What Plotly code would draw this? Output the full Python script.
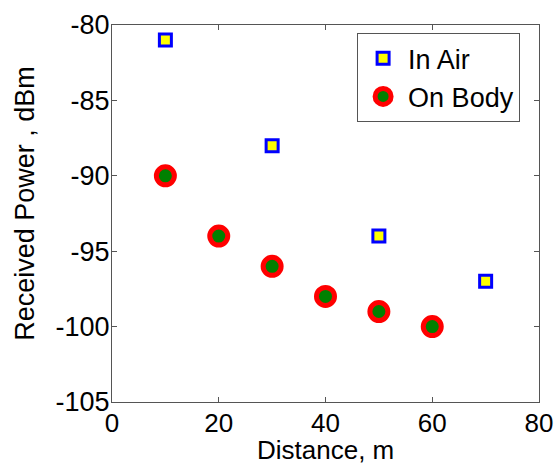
import plotly.graph_objects as go

air_x = [10, 30, 50, 70]
air_y = [-81, -88, -94, -97]
body_x = [10, 20, 30, 40, 50, 60]
body_y = [-90, -94, -96, -98, -99, -100]

x_ticks = [0, 20, 40, 60, 80]
y_ticks = [-105, -100, -95, -90, -85, -80]
y_tick_text = ["-105", "-100", "-95", "-90", "-85", "-80"]

fig = go.Figure()
fig.add_trace(go.Scatter(x=air_x, y=air_y, mode="markers", name="In Air",
                         marker=dict(symbol="square", size=12, color="#ffff00",
                                     line=dict(color="#0000ff", width=3))))
fig.add_trace(go.Scatter(x=body_x, y=body_y, mode="markers", name="On Body",
                         marker=dict(symbol="circle", size=18, color="#008000",
                                     line=dict(color="#ff0000", width=5))))

font = "Liberation Sans, Arial, sans-serif"
axis_common = dict(showgrid=False, zeroline=False, showline=True, linecolor="#555555",
                   linewidth=1, mirror="ticks", ticks="inside", ticklen=5,
                   tickcolor="#555555", automargin=False)
fig.update_layout(
    width=556, height=465,
    margin=dict(l=112, r=17, t=25, b=63),
    plot_bgcolor="white", paper_bgcolor="white",
    showlegend=True,
    legend=dict(x=0.574, y=0.978, xanchor="left", yanchor="top",
                bordercolor="#555555", borderwidth=1, bgcolor="white",
                font=dict(size=27, color="black", family=font),
                itemwidth=40, tracegroupgap=0),
    xaxis=dict(range=[0, 80], tickvals=x_ticks, ticklabelstandoff=-2,
               tickfont=dict(size=26, color="black", family=font), **axis_common),
    yaxis=dict(range=[-105, -80], tickvals=y_ticks, ticktext=y_tick_text,
               ticklabelstandoff=-4,
               tickfont=dict(size=27, color="black", family=font), **axis_common),
    annotations=[
        dict(text="Distance, m", xref="paper", yref="paper", x=0.5, y=-0.127,
             xanchor="center", yanchor="middle", showarrow=False,
             font=dict(size=26, color="black", family=font)),
        dict(text="Received Power , dBm", xref="paper", yref="paper", x=-0.204, y=0.528,
             xanchor="center", yanchor="middle", textangle=-90, showarrow=False,
             font=dict(size=27, color="black", family=font)),
    ],
)
fig.write_html("out.html", config={"displayModeBar": False},
               post_script="document.body.style.margin='0';")
